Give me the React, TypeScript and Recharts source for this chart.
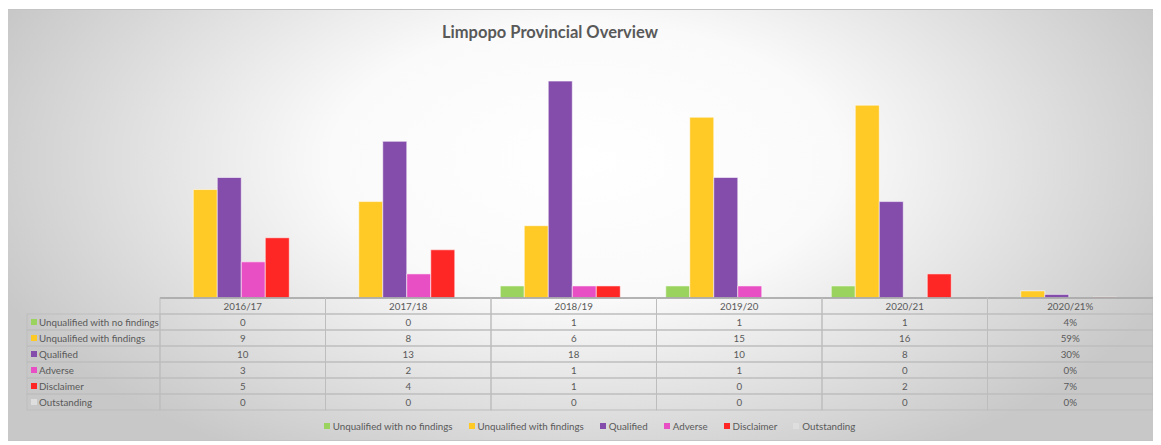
import { Bar, BarChart, Legend, XAxis, YAxis } from "recharts";

const years = ["2016/17", "2017/18", "2018/19", "2019/20", "2020/21", "2020/21%"];

// last column is the share of 2020/21, plotted as a fraction
const noFindings = [0, 0, 1, 1, 1, 0.04];
const withFindings = [9, 8, 6, 15, 16, 0.59];
const qualified = [10, 13, 18, 10, 8, 0.3];
const adverse = [3, 2, 1, 1, 0, 0];
const disclaimer = [5, 4, 1, 0, 2, 0.07];
const outstanding = [0, 0, 0, 0, 0, 0];

const series = [
  { key: "noFindings", name: "Unqualified with no findings", color: "#9bd35f", values: noFindings },
  { key: "withFindings", name: "Unqualified with findings", color: "#ffc926", values: withFindings },
  { key: "qualified", name: "Qualified", color: "#844cab", values: qualified },
  { key: "adverse", name: "Adverse", color: "#e94fc4", values: adverse },
  { key: "disclaimer", name: "Disclaimer", color: "#ff2626", values: disclaimer },
  { key: "outstanding", name: "Outstanding", color: "#dedede", values: outstanding },
];

const data = years.map((year, i) => {
  const row: Record<string, string | number> = { year };
  series.forEach((s) => (row[s.key] = s.values[i]));
  return row;
});

const W = 1153;
const H = 432;
const MARGIN = { top: 48, right: 8, left: 152, bottom: 5 };
const CELL_W = (W - MARGIN.left - MARGIN.right) / years.length;
const ROW_H = 16;
const LINE = "#bdbdbd";
const TEXT = "#595959";
const FONT = "Lato, 'Open Sans', sans-serif";
const SMALL = 9.75;

const fmt = (v: number, i: number) =>
  i === years.length - 1 ? `${Math.round(v * 100)}%` : `${v}`;

const TableTick = (props: any) => {
  const { x, y, payload } = props;
  const i = years.indexOf(payload.value);
  const left = x - CELL_W / 2;
  return (
    <g fontFamily={FONT} fontSize={SMALL} fill={TEXT}>
      <rect x={left} y={y} width={CELL_W} height={ROW_H} fill="none" stroke={LINE} />
      <text x={x} y={y + 11.5} textAnchor="middle">
        {payload.value}
      </text>
      {series.map((s, r) => (
        <g key={s.key}>
          <rect
            x={left}
            y={y + ROW_H * (r + 1)}
            width={CELL_W}
            height={ROW_H}
            fill="none"
            stroke={LINE}
          />
          <text x={x} y={y + ROW_H * (r + 1) + 11.5} textAnchor="middle">
            {fmt(s.values[i], i)}
          </text>
        </g>
      ))}
      {i === 0 &&
        series.map((s, r) => (
          <g key={`lab-${s.key}`}>
            <rect
              x={19}
              y={y + ROW_H * (r + 1)}
              width={left - 19}
              height={ROW_H}
              fill="none"
              stroke={LINE}
            />
            <rect x={23} y={y + ROW_H * (r + 1) + 5} width={6} height={6} fill={s.color} />
            <text x={31} y={y + ROW_H * (r + 1) + 11.5} textAnchor="start">
              {s.name}
            </text>
          </g>
        ))}
    </g>
  );
};

const LegendContent = () => (
  <div
    style={{
      display: "flex",
      justifyContent: "center",
      alignItems: "center",
      height: 20,
      paddingLeft: 26,
      fontFamily: FONT,
      fontSize: SMALL,
      color: TEXT,
    }}
  >
    {series.map((s) => (
      <div key={s.key} style={{ display: "flex", alignItems: "center", marginRight: 16 }}>
        <span
          style={{ width: 6, height: 6, background: s.color, marginRight: 3, display: "inline-block" }}
        />
        {s.name}
      </div>
    ))}
  </div>
);

export default function App() {
  return (
    <div
      style={{
        position: "relative",
        marginTop: 1,
        width: W,
        height: H,
        boxSizing: "border-box",
        borderTop: "1px solid #c4c4c4",
        borderBottom: "1px solid #c4c4c4",
        background:
          "radial-gradient(ellipse 55% 80% at 50% 35%, #ffffff 0%, #fafafa 40%, #c8c8c8 100%)",
      }}
    >
      <div
        style={{
          position: "absolute",
          left: 0,
          width: 1084,
          top: 12,
          textAlign: "center",
          fontFamily: FONT,
          fontWeight: 700,
          fontSize: 16.5,
          color: TEXT,
        }}
      >
        Limpopo Provincial Overview
      </div>
      <div style={{ position: "absolute", left: 0, top: -1 }}>
        <BarChart
          width={W}
          height={H}
          data={data}
          margin={MARGIN}
          barCategoryGap="5.6%"
          barGap={0}
        >
          <YAxis hide domain={[0, 20]} />
          <XAxis
            dataKey="year"
            interval={0}
            height={118}
            tickSize={0}
            tickMargin={0}
            tickLine={false}
            axisLine={{ stroke: "#8c8c8c", strokeWidth: 1.5 }}
            tick={<TableTick />}
          />
          <Legend
            verticalAlign="bottom"
            content={<LegendContent />}
            wrapperStyle={{ left: 0, width: W }}
          />
          {series.map((s) => (
            <Bar
              key={s.key}
              dataKey={s.key}
              name={s.name}
              fill={s.color}
              stroke="rgba(255,255,255,0.55)"
              isAnimationActive={false}
            />
          ))}
        </BarChart>
      </div>
    </div>
  );
}
